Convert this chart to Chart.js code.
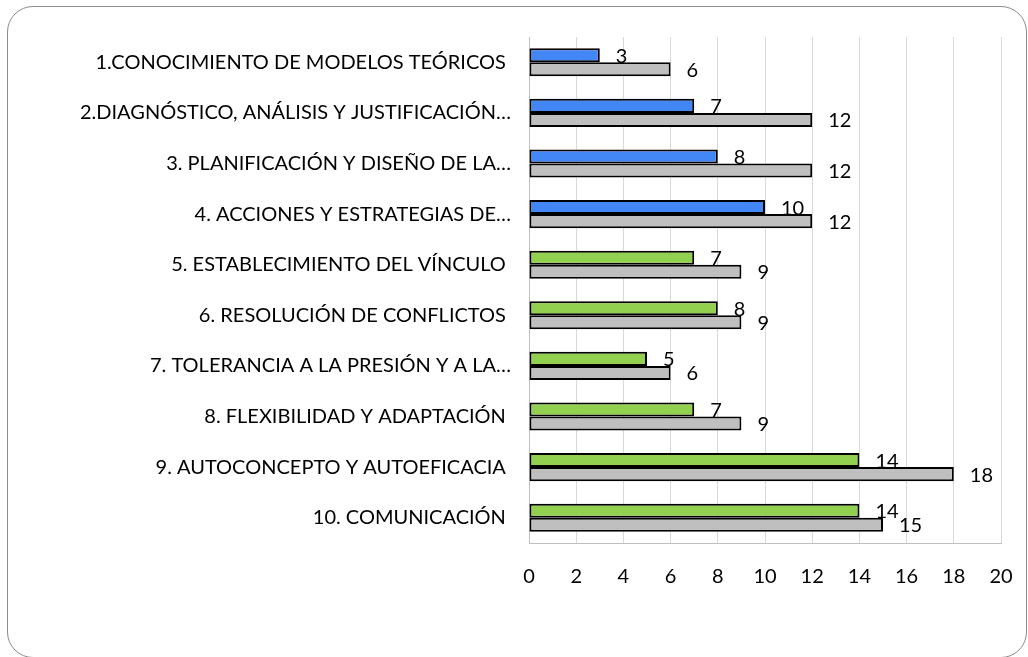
<!DOCTYPE html>
<html>
<head>
<meta charset="utf-8">
<script src="https://cdn.jsdelivr.net/npm/chart.js@4"></script>
<style>
  html, body { margin: 0; padding: 0; background: #fff; overflow: hidden; }
  #frame {
    position: absolute; left: 7px; top: 6px; width: 1020px; height: 652px;
    border: 1.5px solid #8c8c8c; border-radius: 26px; box-sizing: border-box;
  }
  #chart { position: absolute; left: 0; top: 0; }
</style>
</head>
<body>
<div id="frame"></div>
<canvas id="chart" width="1028" height="657"></canvas>
<script>
"use strict";

const categories = [
  "1.CONOCIMIENTO DE MODELOS TEÓRICOS ",
  "2.DIAGNÓSTICO, ANÁLISIS Y JUSTIFICACIÓN…",
  "3. PLANIFICACIÓN Y DISEÑO DE LA…",
  "4. ACCIONES Y ESTRATEGIAS DE…",
  "5. ESTABLECIMIENTO DEL VÍNCULO ",
  "6. RESOLUCIÓN DE CONFLICTOS ",
  "7. TOLERANCIA A LA PRESIÓN Y A LA…",
  "8. FLEXIBILIDAD Y ADAPTACIÓN ",
  "9. AUTOCONCEPTO Y AUTOEFICACIA ",
  "10. COMUNICACIÓN ",
];
const seriesA = [3, 7, 8, 10, 7, 8, 5, 7, 14, 14];
const seriesB = [6, 12, 12, 12, 9, 9, 6, 9, 18, 15];
const xTicks = [0, 2, 4, 6, 8, 10, 12, 14, 16, 18, 20];

const blue = "#4287f5";
const green = "#92d050";
const grey = "#bfbfbf";
const fontFamily = "Lato, 'Open Sans', sans-serif";
const fontSize = 20;

const valueLabels = {
  id: "valueLabels",
  afterDatasetsDraw(chart) {
    const ctx = chart.ctx;
    ctx.save();
    ctx.font = `${fontSize}px ${fontFamily}`;
    ctx.fillStyle = "#000";
    ctx.textAlign = "left";
    ctx.textBaseline = "middle";
    chart.data.datasets.forEach((ds, i) => {
      chart.getDatasetMeta(i).data.forEach((bar, j) => {
        ctx.fillText(String(ds.data[j]), bar.x + 16, bar.y + 1);
      });
    });
    ctx.restore();
  },
};

Chart.defaults.font.family = fontFamily;
Chart.defaults.font.size = fontSize;
Chart.defaults.color = "#000";

new Chart(document.getElementById("chart").getContext("2d"), {
  type: "bar",
  data: {
    labels: categories,
    datasets: [
      {
        data: seriesA,
        backgroundColor: seriesA.map((v, i) => (i < 4 ? blue : green)),
        borderColor: "#000",
        borderWidth: 2,
        borderSkipped: false,
        categoryPercentage: 0.555,
        barPercentage: 1,
      },
      {
        data: seriesB,
        backgroundColor: grey,
        borderColor: "#000",
        borderWidth: 2,
        borderSkipped: false,
        categoryPercentage: 0.555,
        barPercentage: 1,
      },
    ],
  },
  options: {
    indexAxis: "y",
    responsive: false,
    animation: false,
    devicePixelRatio: 1,
    layout: { padding: { left: 0, top: 37, right: 27, bottom: 0 } },
    plugins: { legend: { display: false }, tooltip: { enabled: false } },
    scales: {
      x: {
        min: 0,
        max: 20,
        afterBuildTicks: (scale) => {
          scale.ticks = xTicks.map((v) => ({ value: v }));
        },
        afterFit: (scale) => {
          scale.height = 114;
          scale.paddingLeft = 0;
          scale.paddingRight = 0;
        },
        grid: { color: "#d9d9d9", lineWidth: 1, drawTicks: false },
        border: { display: true, color: "#bfbfbf", width: 1 },
        ticks: { padding: 22, font: { size: fontSize } },
      },
      y: {
        afterFit: (scale) => {
          scale.width = 529;
        },
        grid: { display: false, drawTicks: false },
        border: { display: true, color: "#bfbfbf", width: 1 },
        ticks: { padding: 18, font: { size: fontSize } },
      },
    },
  },
  plugins: [valueLabels],
});
</script>
</body>
</html>
